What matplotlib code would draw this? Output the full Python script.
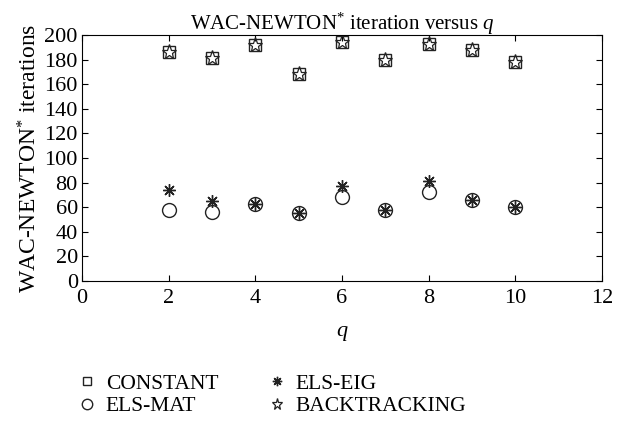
import matplotlib
matplotlib.use("Agg")
from matplotlib import pyplot as plt

plt.rcParams['font.family'] = ['Liberation Serif', 'DejaVu Serif']
plt.rcParams['mathtext.fontset'] = 'custom'
plt.rcParams['mathtext.it'] = 'Liberation Serif:italic'
plt.rcParams['mathtext.rm'] = 'Liberation Serif'

q = [2, 3, 4, 5, 6, 7, 8, 9, 10]
constant = [186, 181, 192, 168, 194, 180, 193, 188, 178]
backtracking = [186, 181, 192, 168, 194, 180, 193, 188, 178]
els_mat = [58, 56, 63, 55, 68, 58, 72, 66, 60]
els_eig = [74, 65, 63, 55, 77, 58, 81, 66, 60]

fig = plt.figure(figsize=(6.18, 4.23), dpi=100)
ax = fig.add_axes([82 / 618, 1 - 281 / 423, 520 / 618, 246 / 423])

ax.plot(q, constant, ls='none', marker='s', ms=8, mfc='none', mec='#222222', mew=1.0, label='CONSTANT')
ax.plot(q, els_mat, ls='none', marker='o', ms=10, mfc='none', mec='#222222', mew=1.0, label='ELS-MAT')
ax.plot(q, els_eig, ls='none', marker=(8, 2, 0), ms=9, mec='#222222', mew=1.0, label='ELS-EIG')
ax.plot(q, backtracking, ls='none', marker='*', ms=11, mfc='none', mec='#222222', mew=0.9, label='BACKTRACKING')

ax.set_xlim(0, 12)
ax.set_ylim(0, 200)
ax.set_xticks(range(0, 13, 2))
ax.set_yticks(range(0, 201, 20))
ax.tick_params(direction='in', labelsize=16, length=4, top=True, right=True)
ax.tick_params(axis='x', pad=6)
ax.tick_params(axis='y', pad=3)
ax.set_xlabel('$q$', fontsize=16, labelpad=11)
ax.set_ylabel('WAC-NEWTON$^{*}$ iterations', fontsize=17, labelpad=2)
ax.set_title('WAC-NEWTON$^{*}$ iteration versus $q$', fontsize=15, pad=4)

fig.legend(loc='upper left', bbox_to_anchor=(68 / 618, 1 - 365 / 423), ncol=2,
           frameon=False, fontsize=15.5, columnspacing=2.25, handletextpad=0.35,
           labelspacing=0.12, handlelength=1.0, markerscale=0.75, borderaxespad=0)

fig.savefig('out.png', dpi=100)
